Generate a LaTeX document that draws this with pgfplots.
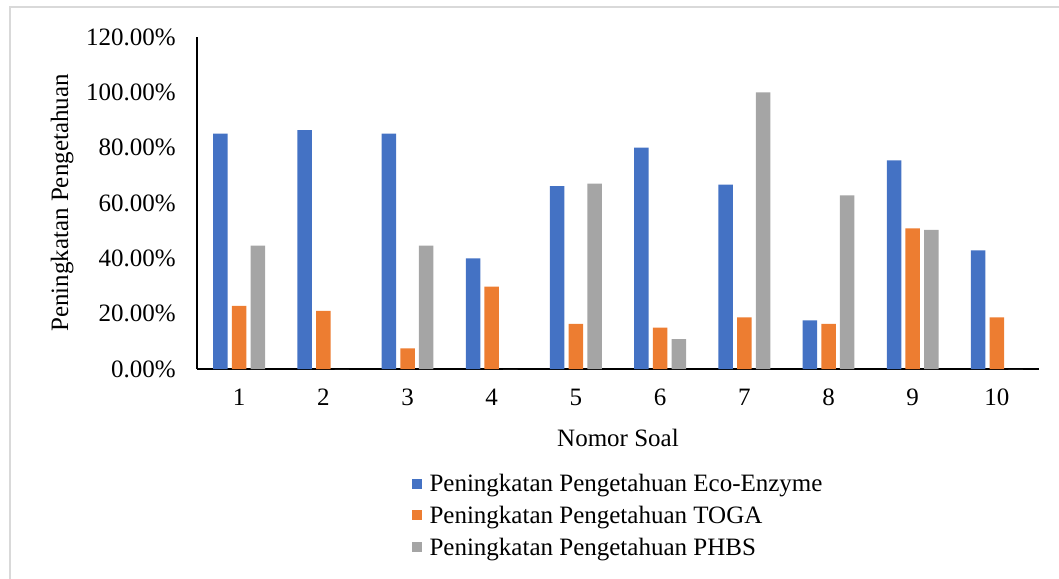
\documentclass[border=0pt]{standalone}
\usepackage{fontspec}
\setmainfont{Liberation Serif}
\usepackage{pgfplots}
\pgfplotsset{compat=1.18}
\definecolor{cblue}{HTML}{4472C4}
\definecolor{corange}{HTML}{ED7D31}
\definecolor{cgray}{HTML}{A5A5A5}
\definecolor{cframe}{HTML}{D9D9D9}
\newcommand{\tf}{\rmfamily\fontsize{25bp}{29bp}\selectfont}
\begin{document}
\begin{tikzpicture}
\begin{axis}[
  scale only axis,
  width=842bp, height=332bp,
  xmin=0.5, xmax=10.5,
  ymin=0, ymax=120,
  ybar=4.2bp, bar width=14.5bp,
  xtick={1,...,10},
  ytick={0,20,40,60,80,100,120},
  major tick length=0pt,
  axis x line*=bottom, axis y line*=left,
  axis line style={black, line width=1.6bp, -},
  /pgf/number format/assume math mode=true,
  yticklabel={\pgfmathprintnumber[fixed,fixed zerofill,precision=2]{\tick}\%},
  yticklabel style={anchor=east, inner sep=0pt, xshift=-21bp, font=\tf},
  xticklabel style={anchor=base, inner sep=0pt, yshift=-36bp, font=\tf},
  xlabel={Nomor Soal},
  ylabel={Peningkatan Pengetahuan},
  every axis x label/.style={at={(axis description cs:0.5,-0.2078)}, anchor=center, font=\tf},
  every axis y label/.style={at={(axis description cs:-0.1603,0.5)}, rotate=90, anchor=center, font=\tf},
  legend style={at={(axis description cs:0.5,-0.310)}, anchor=north, draw=none, font=\tf, cells={anchor=west}, row sep=9bp, inner sep=0pt},
  legend cell align=left,
  legend image code/.code={\fill[#1] (0bp,-5bp) rectangle (10bp,5bp); \path (16bp,0bp);},
]
\addplot[fill=cblue, draw=none] coordinates {(1,85.1) (2,86.3) (3,85.1) (4,40.0) (5,66.1) (6,80.0) (7,66.6) (8,17.6) (9,75.4) (10,42.9)};
\addplot[fill=corange, draw=none] coordinates {(1,22.8) (2,21.0) (3,7.5) (4,29.8) (5,16.3) (6,15.0) (7,18.7) (8,16.3) (9,50.8) (10,18.7)};
\addplot[fill=cgray, draw=none] coordinates {(1,44.6) (2,0) (3,44.6) (4,0) (5,67.0) (6,10.8) (7,100) (8,62.8) (9,50.3) (10,0)};
\legend{Peningkatan Pengetahuan Eco-Enzyme, Peningkatan Pengetahuan TOGA, Peningkatan Pengetahuan PHBS}
\end{axis}
\draw[cframe, line width=2bp] (-187bp,-212bp) -- (-187bp,362bp) -- (864bp,362bp);
\pgfresetboundingbox
\path[use as bounding box] (-197bp,-210bp) rectangle (862bp,369bp);
\end{tikzpicture}
\end{document}
